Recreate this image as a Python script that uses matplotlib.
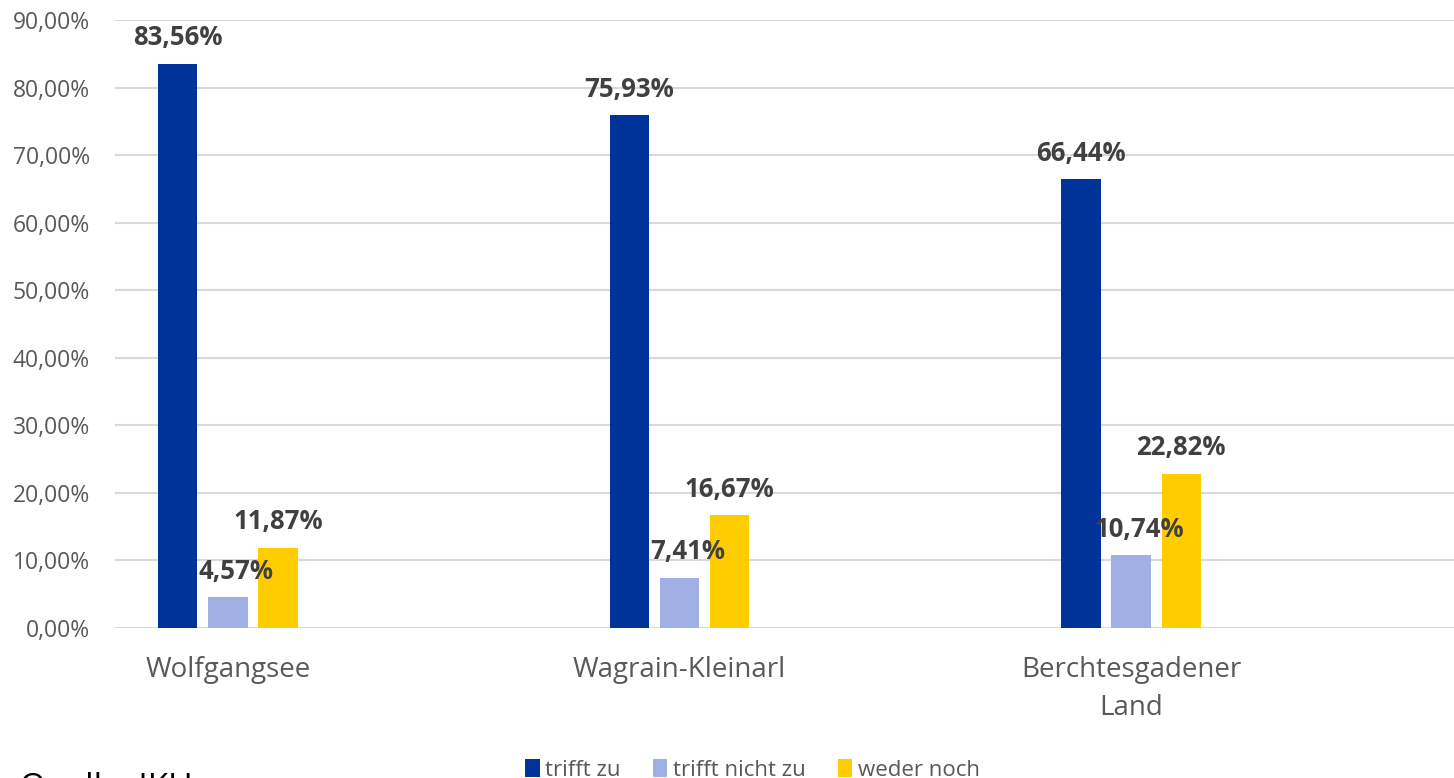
import matplotlib.pyplot as plt
import numpy as np

categories = ["Wolfgangsee", "Wagrain-Kleinarl", "Berchtesgadener\nLand"]
series_names = ["trifft zu", "trifft nicht zu", "weder noch"]
trifft_zu = [83.56, 75.93, 66.44]
trifft_nicht_zu = [4.57, 7.41, 10.74]
weder_noch = [11.87, 16.67, 22.82]
colors = ["#003399", "#A0B0E4", "#FFCC00"]

plt.rcParams["font.family"] = ["Open Sans", "DejaVu Sans"]

fig = plt.figure(figsize=(14.54, 7.78), dpi=100)
ax = fig.add_axes([115 / 1454, 150 / 778, 1 - 115 / 1454, 608 / 778])

x = np.arange(len(categories))
width = 0.087
step = 0.111
values = [trifft_zu, trifft_nicht_zu, weder_noch]
for i, (name, vals, col) in enumerate(zip(series_names, values, colors)):
    pos = x + (i - 1) * step
    ax.bar(pos, vals, width=width, color=col, label=name, zorder=2)
    # the light bar labels sit a little to the right in the original
    dx = 8 if i == 1 else 0
    for px, v in zip(pos, vals):
        ax.annotate(f"{v:.2f}%".replace(".", ","), (px, v), xytext=(dx, 26),
                    textcoords="offset pixels",
                    ha="center", va="center", fontsize=18.5, fontweight="bold",
                    color="#404040", zorder=3)

ax.set_xlim(-0.25, 2.715)
ax.set_ylim(0, 90)
ticks = np.arange(0, 91, 10)
ax.set_yticks(ticks)
ax.set_yticklabels([f"{t:.2f}%".replace(".", ",") for t in ticks])
ax.yaxis.grid(True, color="#D9D9D9", linewidth=1.5, zorder=0)
ax.set_xticks(x)
ax.set_xticklabels(categories, fontsize=20, color="#595959", linespacing=1.5)
ax.tick_params(axis="y", labelsize=16.5, labelcolor="#595959", length=0, pad=18)
ax.tick_params(axis="x", length=0, pad=20)
for s in ax.spines.values():
    s.set_visible(False)
ax.set_axisbelow(True)

fig.legend(loc="lower center", bbox_to_anchor=(0.5175, -0.029), ncol=3, frameon=False,
           fontsize=16, labelcolor="#595959", handlelength=0.65, handleheight=0.9,
           handletextpad=0.25, columnspacing=1.45)

fig.text(20 / 1454, 1 - 771 / 778, "Quelle: IKU", fontsize=24, color="black", va="top", ha="left")

fig.savefig("out.png", dpi=100)
